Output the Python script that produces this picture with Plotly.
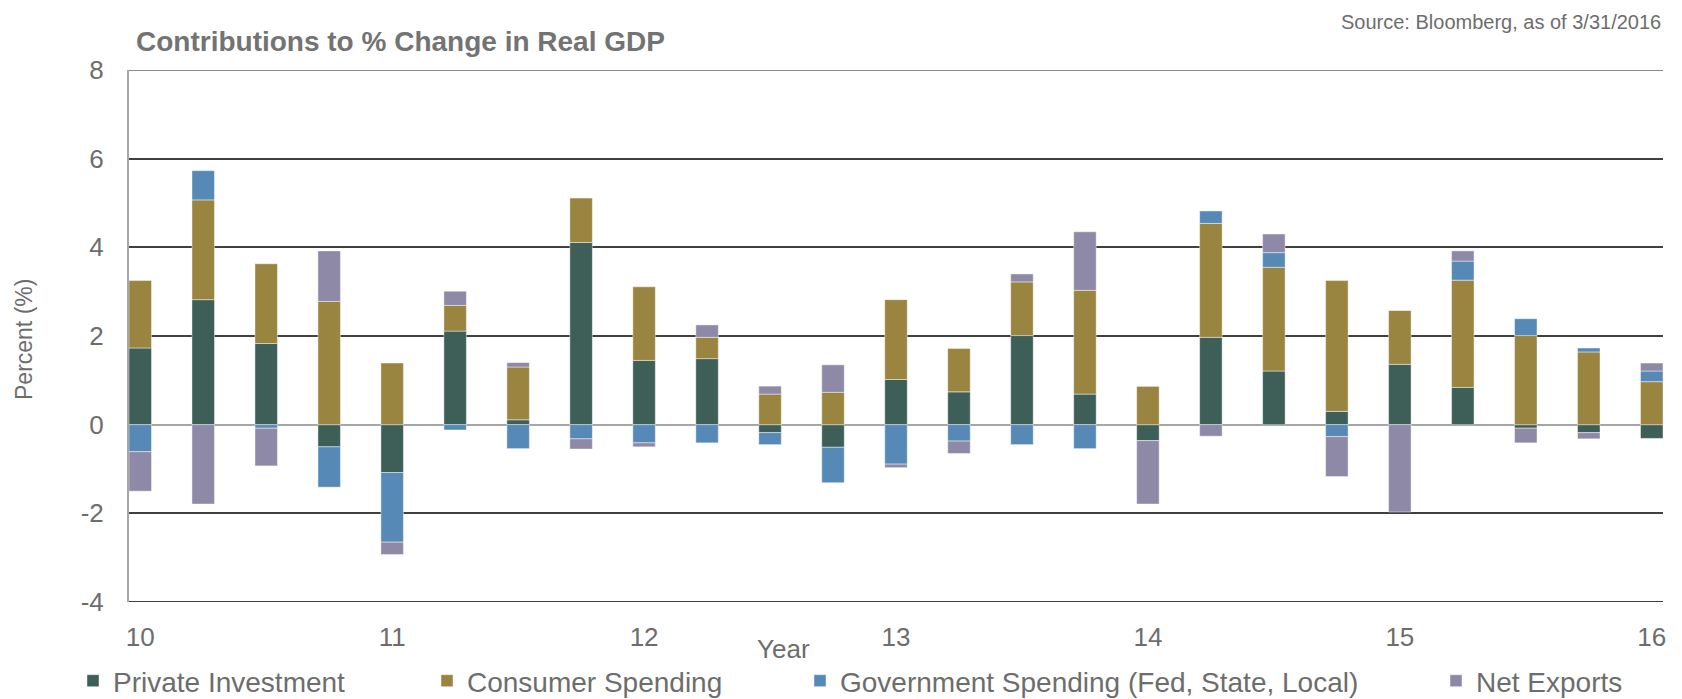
import plotly.graph_objects as go

# Quarter positions (year, 2-digit, fractional by quarter)
period = [10.0, 10.25, 10.5, 10.75, 11.0, 11.25, 11.5, 11.75, 12.0, 12.25, 12.5, 12.75,
          13.0, 13.25, 13.5, 13.75, 14.0, 14.25, 14.5, 14.75, 15.0, 15.25, 15.5, 15.75, 16.0]

private_investment = [1.73, 2.82, 1.83, -0.50, -1.08, 2.11, 0.11, 4.11, 1.45, 1.49, -0.18, -0.51,
                      1.02, 0.74, 2.01, 0.69, -0.36, 1.97, 1.21, 0.30, 1.36, 0.84, -0.08, -0.18, -0.31]
consumer_spending = [1.52, 2.25, 1.80, 2.78, 1.39, 0.58, 1.19, 1.00, 1.66, 0.48, 0.69, 0.73,
                     1.80, 0.98, 1.21, 2.34, 0.87, 2.57, 2.34, 2.95, 1.22, 2.42, 2.01, 1.64, 0.97]
government_spending = [-0.61, 0.66, -0.08, -0.91, -1.57, -0.12, -0.54, -0.32, -0.41, -0.41, -0.27, -0.80,
                       -0.89, -0.37, -0.45, -0.54, 0.0, 0.28, 0.33, -0.27, 0.0, 0.43, 0.38, 0.09, 0.24]
net_exports = [-0.89, -1.79, -0.85, 1.14, -0.28, 0.32, 0.10, -0.23, -0.09, 0.28, 0.18, 0.62,
               -0.08, -0.28, 0.18, 1.32, -1.43, -0.26, 0.42, -0.90, -1.97, 0.23, -0.33, -0.14, 0.18]

year_ticks = [10, 11, 12, 13, 14, 15, 16]
year_labels = ["10", "11", "12", "13", "14", "15", "16"]
pct_ticks = [-4, -2, 0, 2, 4, 6, 8]
pct_labels = ["-4", "-2", "0", "2", "4", "6", "8"]

series = [
    ("Private Investment", private_investment, "#3e5e58", "legend"),
    ("Consumer Spending", consumer_spending, "#998440", "legend2"),
    ("Government Spending (Fed, State, Local)", government_spending, "#5689b6", "legend3"),
    ("Net Exports", net_exports, "#8e89a6", "legend4"),
]

FONT = "Liberation Sans, Arial, sans-serif"
GRAY = "#6d6d6d"
BAR_W = 0.0893

# page body has an 8px margin; figure sized so the plot lands on the reference pixels
OFF = 8
W, H = 1682 - OFF, 699 - OFF
PL, PR, PT, PB = 129, 1663, 70, 602  # target plot-area pixels in the page
PW, PH = PR - PL, PB - PT


def px(xpage):
    return (xpage - PL) / PW


def py(ypage):
    return (PB - ypage) / PH


fig = go.Figure()
for name, vals, color, lg in series:
    fig.add_trace(go.Bar(
        x=period, y=vals, name=name, width=BAR_W, showlegend=True,
        marker=dict(color=color, line=dict(color="rgba(255,255,255,0.55)", width=0.8)),
        legend=lg,
    ))

legend_common = dict(orientation="h", font=dict(family=FONT, size=28, color=GRAY),
                     bgcolor="rgba(0,0,0,0)", borderwidth=0, yanchor="middle", y=py(681),
                     xanchor="left")

fig.update_layout(
    width=W, height=H, showlegend=True,
    margin=dict(l=PL - OFF, r=OFF + W - PR, t=PT - OFF, b=OFF + H - PB, autoexpand=False),
    paper_bgcolor="white", plot_bgcolor="white",
    barmode="relative",
    font=dict(family=FONT, color=GRAY),
    title=dict(text="<b>Contributions to % Change in Real GDP</b>",
               font=dict(family=FONT, size=28, color="#737373"),
               x=px(136), xref="paper", xanchor="left",
               y=1 - (41 - OFF) / H, yref="container", yanchor="middle"),
    xaxis=dict(range=[10 - BAR_W / 2, 16 + BAR_W / 2], tickvals=year_ticks, ticktext=year_labels,
               showgrid=False, zeroline=False, showline=False, automargin=False,
               ticks="outside", ticklen=12, tickcolor="rgba(0,0,0,0)",
               tickfont=dict(family=FONT, size=26, color=GRAY)),
    yaxis=dict(range=[-4, 8], tickvals=pct_ticks, ticktext=pct_labels, automargin=False,
               showgrid=True, gridcolor="#404040", gridwidth=2,
               zeroline=True, zerolinecolor="#a6a6a6", zerolinewidth=2,
               showline=True, linecolor="#a6a6a6", linewidth=2,
               ticks="outside", ticklen=18, tickcolor="rgba(0,0,0,0)",
               tickfont=dict(family=FONT, size=26, color=GRAY)),
    legend=dict(legend_common, x=px(73)),
    legend2=dict(legend_common, x=px(427)),
    legend3=dict(legend_common, x=px(800)),
    legend4=dict(legend_common, x=px(1436)),
    shapes=[
        dict(type="line", xref="paper", yref="y", x0=0, x1=1, y0=8, y1=8,
             line=dict(color="#8c8c8c", width=2), layer="below"),
        dict(type="line", xref="paper", yref="y", x0=0, x1=1, y0=-4, y1=-4,
             line=dict(color="#404040", width=2), layer="below"),
    ],
    annotations=[
        dict(text="Source: Bloomberg, as of 3/31/2016", xref="paper", yref="paper",
             x=1.0, y=py(9), xanchor="right", yanchor="top", showarrow=False,
             font=dict(family=FONT, size=20, color=GRAY)),
        dict(text="Percent (%)", xref="paper", yref="paper", textangle=-90,
             x=px(24), y=py(340), xanchor="center", yanchor="middle",
             showarrow=False, font=dict(family=FONT, size=23, color=GRAY)),
        dict(text="Year", xref="paper", yref="paper",
             x=px(783), y=py(649), xanchor="center", yanchor="middle",
             showarrow=False, font=dict(family=FONT, size=26, color=GRAY)),
    ],
)

fig.write_html("out.html")
